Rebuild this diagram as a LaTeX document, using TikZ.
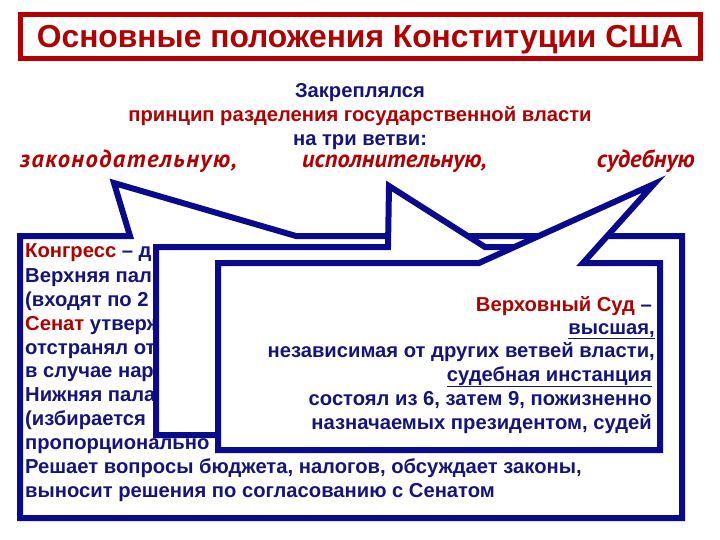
\documentclass[tikz,border=0pt]{standalone}
\usepackage{fontspec}
\setmainfont{Liberation Sans}
\newfontfamily\itfont{PT Sans}
\newfontfamily\itwidefont[LetterSpace=6]{PT Sans}
\definecolor{navy}{HTML}{14147A}
\definecolor{cred}{HTML}{B00000}
\definecolor{bord}{HTML}{0A0A8C}
\tikzset{
  txt/.style={inner sep=0pt, font=\bfseries\fontsize{20.2}{24}\selectfont, text=navy},
  branch/.style={txt, text=cred, font=\itfont\bfseries\itshape\fontsize{24.5}{26}\selectfont},
  callout/.style={draw=bord, line width=6pt, fill=white, line join=miter, miter limit=20},
}
\begin{document}
\begin{tikzpicture}[x=1pt,y=-1pt]
\useasboundingbox (0,0) rectangle (720,540);
% title
\draw[cred, line width=5pt, fill=white] (20,15) rectangle (700,59);
\node[txt, font=\bfseries\fontsize{31.8}{34}\selectfont, text=cred, anchor=base] (title) at (360,48) {Основные положения Конституции США};
% header lines
\node[txt, anchor=base] (h1) at (360,98) {Закреплялся};
\node[txt, anchor=base, text=cred] (h2) at (360,122) {принцип разделения государственной власти};
\node[txt, anchor=base] (h3) at (360,146) {на три ветви:};
\node[branch, font=\itwidefont\bfseries\itshape\fontsize{24.5}{26}\selectfont, anchor=base west] (w1) at (20,168) {законодательную,};
\node[branch, anchor=base west] (w2) at (302,168) {исполнительную,};
\node[branch, anchor=base east] (w3) at (695,168) {судебную};
% legislative callout
\draw[callout] (20,236) -- (130,236) -- (114,183) -- (296,236) -- (682,236) -- (682,518) -- (20,518) -- cycle;
\node[txt, anchor=base west] (l1) at (25,258) {\textcolor{cred}{Конгресс} – д};
\node[txt, anchor=base west] (l2) at (25,282) {Верхняя пал};
\node[txt, anchor=base west] (l3) at (25,306) {(входят по 2};
\node[txt, anchor=base west] (l4) at (25,330) {\textcolor{cred}{Сенат} утверж};
\node[txt, anchor=base west] (l5) at (25,354) {отстранял от};
\node[txt, anchor=base west] (l6) at (25,377) {в случае нар};
\node[txt, anchor=base west] (l7) at (25,401) {Нижняя пала};
\node[txt, anchor=base west] (l8) at (25,425) {(избирается};
\node[txt, anchor=base west] (l9) at (25,449) {пропорционально};
\node[txt, anchor=base west] (l10) at (25,473) {Решает вопросы бюджета, налогов, обсуждает законы,};
\node[txt, anchor=base west] (l11) at (25,497) {выносит решения по согласованию с Сенатом};
% executive callout
\draw[callout] (156,247) -- (388,247) -- (389,186) -- (485,247) -- (560,247) -- (560,435) -- (156,435) -- cycle;
% judicial callout
\draw[callout] (218,263) -- (479,263) -- (654,184) -- (583,263) -- (660,263) -- (660,450) -- (218,450) -- cycle;
\node[txt, anchor=base east] (j1) at (652,311) {\textcolor{cred}{Верховный Суд} –};
\node[txt, anchor=base east] (j2) at (655,334) {\underline{высшая,}};
\node[txt, anchor=base east] (j3) at (655,357) {независимая от других ветвей власти,};
\node[txt, anchor=base east] (j4) at (652,381) {\underline{судебная инстанция}};
\node[txt, anchor=base east] (j5) at (652,405) {состоял из 6, затем 9, пожизненно};
\node[txt, anchor=base east] (j6) at (652,429) {назначаемых президентом, судей};
\end{tikzpicture}
\end{document}
